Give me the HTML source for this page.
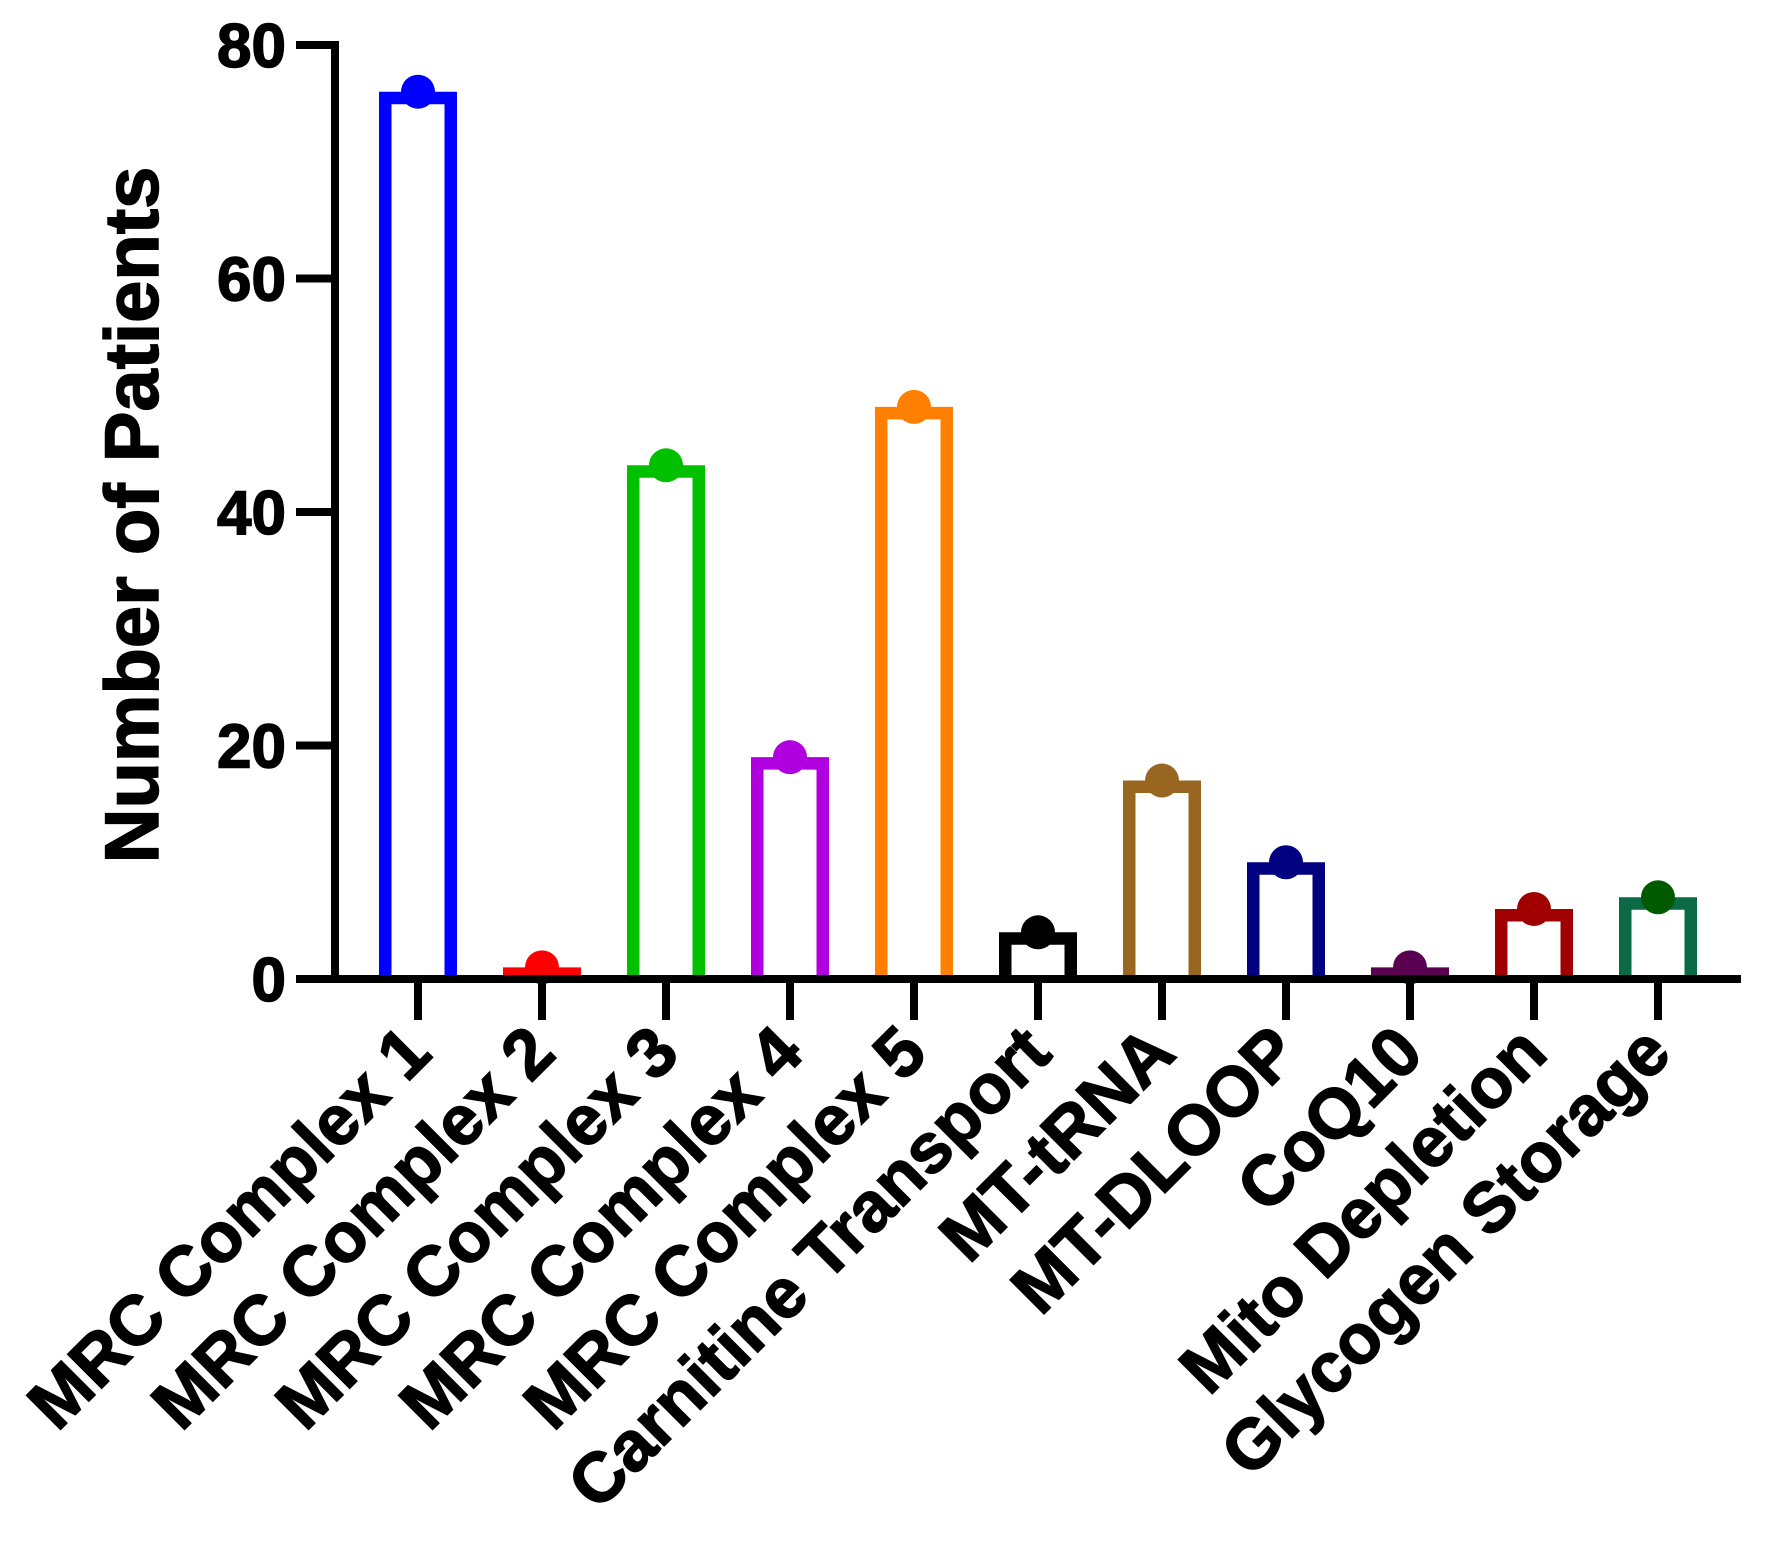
<!DOCTYPE html>
<html><head><meta charset="utf-8"><style>body{margin:0;background:#fff}svg{display:block}text{font-family:"Liberation Sans",sans-serif;font-weight:bold}</style></head>
<body>
<svg id="chart" width="1765" height="1564" xmlns="http://www.w3.org/2000/svg"></svg>
<script>
const categories=["MRC Complex 1","MRC Complex 2","MRC Complex 3","MRC Complex 4","MRC Complex 5","Carnitine Transport","MT-tRNA","MT-DLOOP","CoQ10","Mito Depletion","Glycogen Storage"];
const values=[76,1,44,19,49,4,17,10,1,6,7];
const barColors=["#0000ff","#ff0000","#00c000","#b000e0","#ff8000","#000000","#996622","#000080","#5a0050","#a00000","#0a6a45"];
const dotColors=["#0000ff","#ff0000","#00c000","#b000e0","#ff8000","#000000","#996622","#000080","#5a0050","#a00000","#005a00"];
const yTicks=[0,20,40,60,80];
const svg=document.getElementById('chart');const NS="http://www.w3.org/2000/svg";
const X0=335,Y0=979,Y80=45,xEnd=1741;
const y=v=>Y0-(Y0-Y80)*v/80;
const x=i=>418+124*i;
function mk(t,a,p){const e=document.createElementNS(NS,t);for(const k in a)e.setAttribute(k,a[k]);(p||svg).appendChild(e);return e;}
values.forEach((v,i)=>{
 const cx=x(i),w=78,sw=12.5,top=y(v);
 const l=cx-w/2+sw/2,r2=cx+w/2-sw/2,t=top+sw/2;
 const r=mk('path',{d:`M${l} ${Y0}L${l} ${t}L${r2} ${t}L${r2} ${Y0}`,fill:'none',stroke:barColors[i],'stroke-width':sw,'stroke-linejoin':'miter'});
 
 
 const c=mk('circle',{cx:cx,cy:top,r:17,fill:dotColors[i]});
 
 
});
const ya=mk('line',{x1:X0,y1:Y80-4,x2:X0,y2:Y0+4,stroke:'#000','stroke-width':8});


const xa=mk('line',{x1:X0-4,y1:Y0,x2:xEnd,y2:Y0,stroke:'#000','stroke-width':8});


yTicks.forEach(t=>{
 mk('line',{x1:296,y1:y(t),x2:X0,y2:y(t),stroke:'#000','stroke-width':8});
 const tx=mk('text',{x:286,y:y(t)+22,'text-anchor':'end','font-size':62,stroke:'#000','stroke-width':1.5});
 tx.textContent=t;
 
 
});
categories.forEach((c,i)=>{
 mk('line',{x1:x(i),y1:Y0,x2:x(i),y2:1020,stroke:'#000','stroke-width':8});
 const ax=x(i)+16,ay=1056;
 const tx=mk('text',{x:ax,y:ay,'text-anchor':'end','font-size':70,stroke:'#000','stroke-width':1.5,transform:`rotate(-45 ${ax} ${ay})`});
 tx.textContent=c;
 
 
});
const yt=mk('text',{x:158,y:515,'text-anchor':'middle','font-size':76,stroke:'#000','stroke-width':1.5,transform:'rotate(-90 158 515)'});
yt.textContent='Number of Patients';


</script>
</body></html>
